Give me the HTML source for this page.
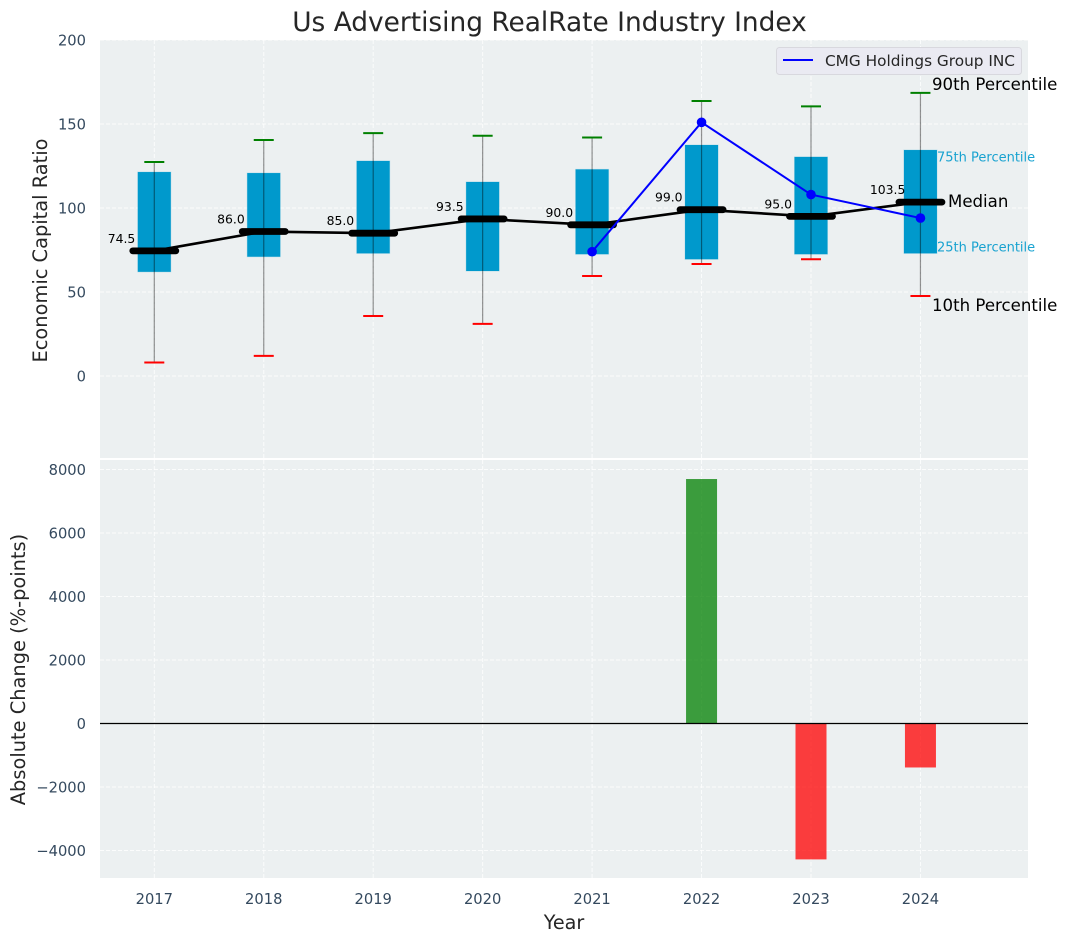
<!DOCTYPE html>
<html lang="en">
<head>
<meta charset="utf-8">
<title>Us Advertising RealRate Industry Index</title>
<style>
html,body{margin:0;padding:0;background:#fff;width:1067px;height:942px;overflow:hidden}
svg{display:block;font-family:"DejaVu Sans","Liberation Sans",sans-serif}
</style>
</head>
<body>
<svg id="chart" xmlns="http://www.w3.org/2000/svg" width="1067" height="942" viewBox="0 0 1067 942">
  <rect x="100" y="40" width="928" height="418" fill="#ecf0f1"/>
  <rect x="100" y="460" width="928" height="418" fill="#ecf0f1"/>
  <g id="grid"></g>
  <g id="boxes"></g>
  <g id="bars"></g>
  <g id="ticks"></g>
  <text x="549.5" y="31" text-anchor="middle" font-size="26.4" fill="#262626">Us Advertising RealRate Industry Index</text>
  <text transform="translate(47,250.5) rotate(-90)" text-anchor="middle" font-size="19.4" fill="#262626">Economic Capital Ratio</text>
  <text transform="translate(25,669.5) rotate(-90)" text-anchor="middle" font-size="19.4" fill="#262626">Absolute Change (%-points)</text>
  <text x="564" y="929" text-anchor="middle" font-size="19.2" fill="#262626">Year</text>
  <g>
    <rect x="776.5" y="47.5" width="245" height="27" rx="3" fill="#eaeaf2" stroke="#d8d8de" stroke-width="1"/>
    <line x1="783" y1="60" x2="813" y2="60" stroke="#0000ff" stroke-width="2"/>
    <text x="825" y="66" font-size="15.3" fill="#262626">CMG Holdings Group INC</text>
  </g>
  <text x="932" y="90" font-size="16.6" fill="#000">90th Percentile</text>
  <text x="937" y="161.5" font-size="13" fill="#0099cc" fill-opacity="0.9">75th Percentile</text>
  <text x="948" y="207" font-size="16.6" fill="#000">Median</text>
  <text x="937" y="251.5" font-size="13" fill="#0099cc" fill-opacity="0.9">25th Percentile</text>
  <text x="932" y="311" font-size="16.6" fill="#000">10th Percentile</text>
</svg>
<script>
const years = [2017, 2018, 2019, 2020, 2021, 2022, 2023, 2024];
const p10 = [8, 12, 35.7, 31, 59.5, 66.7, 69.5, 47.6];
const p25 = [62, 71, 73, 62.5, 72.5, 69.5, 72.5, 73];
const medians = [74.5, 86, 85, 93.5, 90, 99, 95, 103.5];
const p75 = [121.4, 120.8, 128, 115.5, 123, 137.5, 130.4, 134.5];
const p90 = [127.4, 140.5, 144.6, 143, 142, 163.7, 160.5, 168.5];
const companyYears = [2021, 2022, 2023, 2024];
const companyValues = [74, 151, 108, 94];
const changeYears = [2022, 2023, 2024];
const changeValues = [7700, -4280, -1385];
const topTicks = [0, 50, 100, 150, 200];
const bottomTicks = [-4000, -2000, 0, 2000, 4000, 6000, 8000];

const NS = 'http://www.w3.org/2000/svg';
const sx = v => 154.3 + (v - 2017) * 109.45;
const syTop = v => 376 - v * 1.68;
const syBot = v => 723.5 - v * 0.03175;
const L = 100, R = 1028;

function make(parent, tag, attrs, text) {
  const el = document.createElementNS(NS, tag);
  for (const k in attrs) el.setAttribute(k, attrs[k]);
  if (text !== undefined) el.textContent = text;
  document.getElementById(parent).appendChild(el);
  return el;
}
const GRID = {stroke: '#ffffff', 'stroke-width': 1, 'stroke-dasharray': '4 2', 'stroke-opacity': 0.8};
const TICK_SIZE = 14.7;

topTicks.forEach(t => {
  const g = make('grid', 'line', {x1: L, x2: R, y1: syTop(t), y2: syTop(t), ...GRID});
  
  
  const lab = make('ticks', 'text', {x: 86, y: syTop(t) + 5.5, 'text-anchor': 'end', 'font-size': TICK_SIZE, fill: '#34495e'}, String(t));
  
  
});
bottomTicks.forEach(t => {
  const g = make('grid', 'line', {x1: L, x2: R, y1: syBot(t), y2: syBot(t), ...GRID});
  
  
  const lab = make('ticks', 'text', {x: 86, y: syBot(t) + 5.5, 'text-anchor': 'end', 'font-size': TICK_SIZE, fill: '#34495e'}, String(t).replace('-', '\u2212'));
  
  
});
years.forEach(y => {
  const a = make('grid', 'line', {x1: sx(y), x2: sx(y), y1: 40, y2: 458, ...GRID});
  
  
  const b = make('grid', 'line', {x1: sx(y), x2: sx(y), y1: 460, y2: 878, ...GRID});
  
  
  const lab = make('ticks', 'text', {x: sx(y), y: 904, 'text-anchor': 'middle', 'font-size': TICK_SIZE, fill: '#34495e'}, String(y));
  
  
});

years.forEach((y, i) => {
  const cx = sx(y);
  const box = make('boxes', 'rect', {x: cx - 16.5, y: syTop(p75[i]), width: 33, height: syTop(p25[i]) - syTop(p75[i]), fill: '#0099cc', stroke: '#0099cc', 'stroke-opacity': 0.2});
  
  
  const whisker = make('boxes', 'line', {x1: cx, x2: cx, y1: syTop(p90[i]), y2: syTop(p10[i]), stroke: '#000', 'stroke-opacity': 0.42, 'stroke-width': 1.2});
  
  
  const capHi = make('boxes', 'line', {x1: cx - 10, x2: cx + 10, y1: syTop(p90[i]), y2: syTop(p90[i]), stroke: '#008000', 'stroke-width': 2});
  
  
  const capLo = make('boxes', 'line', {x1: cx - 10, x2: cx + 10, y1: syTop(p10[i]), y2: syTop(p10[i]), stroke: '#ff0000', 'stroke-width': 2});
  
  
});

const medianLine = make('boxes', 'polyline', {points: years.map((y, i) => sx(y) + ',' + syTop(medians[i])).join(' '), fill: 'none', stroke: '#000', 'stroke-width': 2.6});



years.forEach((y, i) => {
  const cx = sx(y), my = syTop(medians[i]);
  const bar = make('boxes', 'line', {x1: cx - 21.5, x2: cx + 21.5, y1: my, y2: my, stroke: '#000', 'stroke-width': 6.8, 'stroke-linecap': 'round'});
  
  
  const lab = make('boxes', 'text', {x: cx - 32.8, y: my - 8, 'text-anchor': 'middle', 'font-size': 12.4, fill: '#000'}, medians[i].toFixed(1));
  
  
});

const companyLine = make('boxes', 'polyline', {points: companyYears.map((y, i) => sx(y) + ',' + syTop(companyValues[i])).join(' '), fill: 'none', stroke: '#0000ff', 'stroke-width': 2});


companyYears.forEach((y, i) => {
  const p = make('boxes', 'circle', {cx: sx(y), cy: syTop(companyValues[i]), r: 4.8, fill: '#0000ff'});
  
  
});

changeYears.forEach((y, i) => {
  const v = changeValues[i];
  const top = Math.min(syBot(v), syBot(0));
  const bar = make('bars', 'rect', {x: sx(y) - 15.5, y: top, width: 31, height: Math.abs(syBot(v) - syBot(0)), fill: v >= 0 ? '#008000' : '#ff0000', 'fill-opacity': 0.75});
  
  
});
const zero = make('bars', 'line', {x1: L, x2: R, y1: syBot(0), y2: syBot(0), stroke: '#000', 'stroke-width': 1.2});


</script>
</body>
</html>
